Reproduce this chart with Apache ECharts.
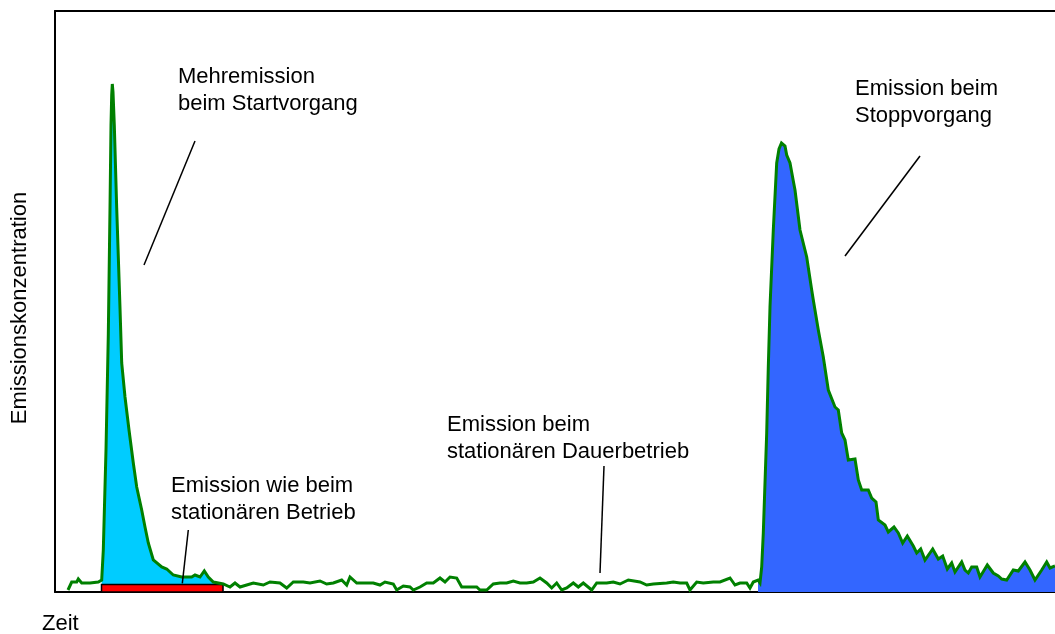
<!DOCTYPE html>
<html><head><meta charset="utf-8">
<script src="https://cdn.jsdelivr.net/npm/echarts@6/dist/echarts.min.js"></script>
<style>html,body{margin:0;padding:0;background:#fff;overflow:hidden}#c{width:1055px;height:634px}</style>
</head><body><div id="c"></div>
<script>
// time (arbitrary units) / concentration (arbitrary units)
const startPhase = [
  [13,2],[16.7,10],[21.7,10],[23.3,13],[26.7,9],[35,9],[43.3,10],[46.7,12],[48.3,42],[51,142],
  [53.3,257],[55,384],[56,467],[56.7,497],[57.3,508],[58,500],[59.3,467],[61.7,384],[65,284],
  [66.7,229],[70,195],[74,162],[78.3,129],[81.7,105],[86.7,82],[90,65],[93.3,49],[98.3,32],
  [106.7,25],[111.7,23],[118.3,17],[126.7,15],[136.7,15],[140,17],[145,15],[149.3,21],[153.3,15],
  [158.3,10],[168.3,8],[175,5],[180,9],[185,5],[191.7,7],[198.3,9],[208.3,7],[215,10]
];
const steadyPhase = [
  [225,9],[231.7,4],[238.3,10],[248.3,10],[255,9],[265,11],[271.7,8],[278.3,9],[286.7,12],[291.7,7],
  [295,15],[301.7,9],[318.3,9],[325,7],[330,10],[338.3,8],[341.7,2],[348.3,6],[355,5],[358.3,2],
  [365,5],[371.7,9],[378.3,9],[385,14],[390,10],[395,15],[401.7,14],[406.7,5],[421.7,5],[425,2],
  [431.7,2],[438.3,8],[445,9],[451.7,9],[458.3,11],[465,9],[471.7,9],[478.3,10],[485,14],[491.7,9],
  [496.7,4],[501.7,9],[506.7,2],[511.7,4],[518.3,9],[523.3,5],[528.3,9],[536.7,2],[541.7,9],[551.7,9],
  [558.3,10],[565,8],[573.3,12],[585,10],[591.7,7],[598.3,8],[611.7,9],[618.3,10],[625,9],[631.7,9],
  [635,2],[641.7,10],[648.3,9],[658.3,10],[665,10],[675,14],[680,7],[685,9],[691.7,9],[695,4],
  [698.3,10],[703,12]
];
const stopPhase = [
  [705,9],[706.7,25],[708.3,59],[711.7,159],[713.3,225],[715,285],[718.3,362],[721.7,429],[724,443],
  [726.5,449],[728.3,450],[730,446],[731.7,437],[735,429],[738.3,411],[740,402],[745,362],[751.7,335],
  [756.7,302],[758.3,292],[763.3,262],[768.3,235],[773.3,202],[780,185],[783.3,182],[786.7,159],
  [790,152],[793.3,132],[800,133],[803.3,112],[806.7,102],[813.3,102],[816.7,94],[821,90],[823.3,72],
  [830,67],[833.3,60],[839,65],[843.3,59],[847.7,49],[852.3,56],[858.3,46],[861.7,39],[865.7,43],
  [870,32],[877.7,43],[883.3,33],[887.7,36],[892.3,23],[896.7,29],[900,20],[906.7,30],[910,22],
  [913.3,19],[916.7,25],[921.7,25],[925,15],[932.3,27],[938.3,19],[943.3,16],[946.7,13],[951.7,12],
  [958.3,22],[963.3,21],[970,30],[975,22],[980,12],[986.7,22],[991.7,30],[995,24],[1000,26]
];
// shaded ranges (time)
const startRange = [46.7, 168.3];
const stopRange = [703, 1000];
// steady-state emission bar: [t0, t1, c0, c1]
const steadyBar = [[46.5, 168, 0, 7.5]];
// leader lines: [t0, c0, t1, c1]
const leaderLines = [
  [140, 451, 89, 327],
  [865, 436, 790, 336],
  [549, 126, 545, 19],
  [133.3, 62, 127.3, 8.7]
];
const axisNameY = 'Emissionskonzentration';
const axisNameX = 'Zeit';
const notes = [
  'Mehremission\nbeim Startvorgang',
  'Emission beim\nStoppvorgang',
  'Emission beim\nstationären Dauerbetrieb',
  'Emission wie beim\nstationären Betrieb'
];

const curve = startPhase.concat(steadyPhase, stopPhase);
const inRange = (r) => curve.filter(p => p[0] >= r[0] && p[0] <= r[1]);

const FONT = 'Liberation Sans, Arial, sans-serif';
const FS = 22;
function note(text, x, y) {
  return {type:'text', x:x, y:y, z:10,
    style:{text:text, fill:'#000', fontSize:FS, fontFamily:FONT, lineHeight:27,
      align:'left', verticalAlign:'top'}};
}
const frameLine = {show:true, onZero:false, lineStyle:{color:'#000', width:2}};
const hidden = {axisTick:{show:false}, axisLabel:{show:false}, splitLine:{show:false}};

const chart = echarts.init(document.getElementById('c'), null, {renderer:'canvas'});
chart.setOption({
  animation:false,
  backgroundColor:'#fff',
  grid:{left:55, top:11, right:0, bottom:42, show:false},
  xAxis:[
    Object.assign({type:'value', min:0, max:1000, position:'bottom', axisLine:frameLine}, hidden),
    Object.assign({type:'value', min:0, max:1000, position:'top', axisLine:frameLine}, hidden)
  ],
  yAxis:Object.assign({type:'value', min:0, max:581, position:'left', axisLine:frameLine}, hidden),
  series:[
    {type:'line', data:inRange(startRange), showSymbol:false, lineStyle:{width:0}, areaStyle:{color:'#00ccff', opacity:1}, z:1},
    {type:'line', data:inRange(stopRange), showSymbol:false, lineStyle:{width:0}, areaStyle:{color:'#3366ff', opacity:1}, z:1},
    {type:'custom', data:steadyBar, z:2, encode:{x:[0,1], y:[2,3]},
      renderItem:function(params, api){
        const p0 = api.coord([api.value(0), api.value(2)]);
        const p1 = api.coord([api.value(1), api.value(3)]);
        return {type:'rect', shape:{x:p0[0], y:p1[1], width:p1[0]-p0[0], height:p0[1]-p1[1]},
          style:{fill:'#ff0000', stroke:'#000', lineWidth:1.5}};
      }},
    {type:'line', data:curve, showSymbol:false, lineStyle:{width:3, color:'#008000', join:'miter'}, z:3},
    {type:'custom', data:leaderLines, z:4, encode:{x:[0,2], y:[1,3]},
      renderItem:function(params, api){
        const a = api.coord([api.value(0), api.value(1)]);
        const b = api.coord([api.value(2), api.value(3)]);
        return {type:'line', shape:{x1:a[0], y1:a[1], x2:b[0], y2:b[1]}, style:{stroke:'#000', lineWidth:1.5}};
      }}
  ],
  graphic:[
    note(notes[0], 178, 63),
    note(notes[1], 855, 75),
    note(notes[2], 447, 411),
    note(notes[3], 171, 472),
    note(axisNameX, 42, 610),
    {type:'text', x:20, y:308, rotation:Math.PI/2, z:10,
      style:{text:axisNameY, fill:'#000', fontSize:FS, fontFamily:FONT, align:'center', verticalAlign:'middle'}}
  ]
});
</script>
</body></html>
